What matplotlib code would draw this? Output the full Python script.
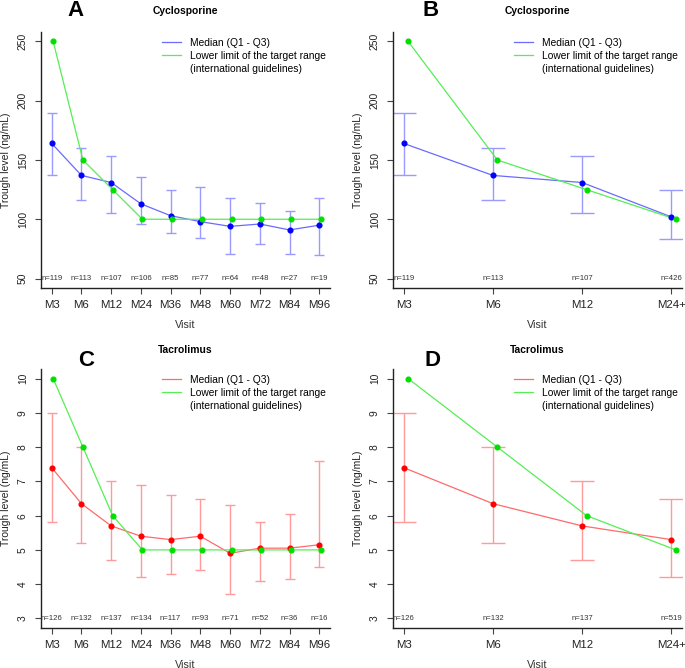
import matplotlib
matplotlib.use("Agg")
import matplotlib.pyplot as plt
import numpy as np

plt.rcParams["font.family"] = ["Liberation Sans", "DejaVu Sans"]

# ---- data ----
visits_long = ["M3", "M6", "M12", "M24", "M36", "M48", "M60", "M72", "M84", "M96"]
visits_short = ["M3", "M6", "M12", "M24+"]

# Cyclosporine, per visit
csa_med = [164, 137, 131, 113, 103, 98, 94, 96, 91, 95]
csa_q1 = [137, 116, 105, 96, 88, 84, 71, 79, 71, 70]
csa_q3 = [190, 160, 153, 136, 125, 127, 118, 114, 107, 118]
csa_target = [250, 150, 125, 100, 100, 100, 100, 100, 100, 100]
csa_n = [119, 113, 107, 106, 85, 77, 64, 48, 27, 19]

# Cyclosporine, M24+ pooled
csa2_med = [164, 137, 131, 102]
csa2_q1 = [137, 116, 105, 83]
csa2_q3 = [190, 160, 153, 125]
csa2_target = [250, 150, 125, 100]
csa2_n = [119, 113, 107, 426]

# Tacrolimus, per visit
tac_med = [7.4, 6.35, 5.7, 5.4, 5.3, 5.4, 4.9, 5.05, 5.05, 5.15]
tac_q1 = [5.8, 5.2, 4.7, 4.2, 4.3, 4.4, 3.7, 4.1, 4.15, 4.5]
tac_q3 = [9.0, 8.0, 7.0, 6.9, 6.6, 6.5, 6.3, 5.8, 6.05, 7.6]
tac_target = [10, 8, 6, 5, 5, 5, 5, 5, 5, 5]
tac_n = [126, 132, 137, 134, 117, 93, 71, 52, 36, 16]

# Tacrolimus, M24+ pooled
tac2_med = [7.4, 6.35, 5.7, 5.3]
tac2_q1 = [5.8, 5.2, 4.7, 4.2]
tac2_q3 = [9.0, 8.0, 7.0, 6.5]
tac2_target = [10, 8, 6, 5]
tac2_n = [126, 132, 137, 519]

fig = plt.figure(figsize=(6.85, 6.68), dpi=100)
W, H = 685.0, 668.0
GREEN_LINE = "#55ee55"
GREEN_PT = "#00e000"


def panel(rect, labels, med, q1, q3, target, n, col, pcol, ecol,
          ylim, yticks, title, letter, letter_xy, title_y, cap):
    l, t, r, b = rect
    ax = fig.add_axes([l / W, 1 - b / H, (r - l) / W, (b - t) / H])
    x = np.arange(1, len(labels) + 1)
    med = np.array(med)
    err = [med - np.array(q1), np.array(q3) - med]
    ax.errorbar(x, med, yerr=err, fmt="none", ecolor=ecol, elinewidth=1.0,
                capsize=cap, capthick=1.0, zorder=2)
    ax.plot(x, med, "-", color=col, lw=0.9, zorder=3)
    ax.plot(x, med, "o", color=pcol, ms=3.4, zorder=5)
    xt = x + 0.05
    ax.plot(xt, target, "-", color=GREEN_LINE, lw=0.9, zorder=3)
    ax.plot(xt, target, "o", color=GREEN_PT, ms=3.4, zorder=5)
    for xi, ni in zip(x, n):
        ax.text(xi, yticks[0], "n=%d" % ni, ha="center", va="center",
                fontsize=5.6, color="#333333")
    span = len(labels) - 1
    ax.set_xlim(1 - 0.04 * span, len(labels) + 0.04 * span)
    ax.set_ylim(*ylim)
    ax.set_xticks(x)
    ax.set_xticklabels(labels, fontsize=8.2)
    ax.set_yticks(yticks)
    ax.set_yticklabels([str(v) for v in yticks], rotation=90, va="center",
                       fontsize=7.4)
    ax.spines["top"].set_visible(False)
    ax.spines["right"].set_visible(False)
    for s in ("left", "bottom"):
        ax.spines[s].set_linewidth(1.0)
        ax.spines[s].set_color("#222222")
    ax.tick_params(length=4, width=0.8, color="#444444", labelcolor="#222222")
    ax.tick_params(axis="x", pad=4.5)
    ax.tick_params(axis="y", pad=5.5)
    ax.set_xlabel("Visit", fontsize=7.8, color="#333333", labelpad=7)
    ax.set_ylabel("Trough level (ng/mL)", fontsize=7.5, color="#222222",
                  labelpad=5)

    h1, = ax.plot([], [], "-", color=col, lw=0.9)
    h2, = ax.plot([], [], "-", color=GREEN_LINE, lw=0.9)
    h3, = ax.plot([], [], "-", color="none", lw=0.9)
    ax.legend([h1, h2, h3],
              ["Median (Q1 - Q3)", "Lower limit of the target range",
               "(international guidelines)"],
              loc="upper left", bbox_to_anchor=(0.41, 0.985), frameon=False,
              fontsize=7.4, handlelength=1.9, handletextpad=0.9,
              labelspacing=0.3, borderaxespad=0.0, borderpad=0.2)

    fig.text((l + r) / 2 / W, 1 - title_y / H, title, ha="center",
             va="center", fontsize=7.4, fontweight="bold")
    fig.text(letter_xy[0] / W, 1 - letter_xy[1] / H, letter, ha="center",
             va="center", fontsize=16, fontweight="bold")
    return ax


panel((41, 32, 330, 288), visits_long, csa_med, csa_q1, csa_q3, csa_target,
      csa_n, "#6a6aff", "#0000ff", "#9a9aff", (42, 258),
      [50, 100, 150, 200, 250], "Cyclosporine", "A", (75, 11), 11, 3.9)
panel((393, 32, 682, 288), visits_short, csa2_med, csa2_q1, csa2_q3,
      csa2_target, csa2_n, "#6a6aff", "#0000ff", "#9a9aff", (42, 258),
      [50, 100, 150, 200, 250], "Cyclosporine", "B", (431, 11), 11, 8.3)
panel((41, 369, 330, 628), visits_long, tac_med, tac_q1, tac_q3, tac_target,
      tac_n, "#ff6a6a", "#ff0000", "#ff9a9a", (2.72, 10.28),
      [3, 4, 5, 6, 7, 8, 9, 10], "Tacrolimus", "C", (86, 360), 350, 3.9)
panel((393, 369, 682, 628), visits_short, tac2_med, tac2_q1, tac2_q3,
      tac2_target, tac2_n, "#ff6a6a", "#ff0000", "#ff9a9a", (2.72, 10.28),
      [3, 4, 5, 6, 7, 8, 9, 10], "Tacrolimus", "D", (432, 360), 350, 8.3)

fig.savefig("out.png", dpi=100)
